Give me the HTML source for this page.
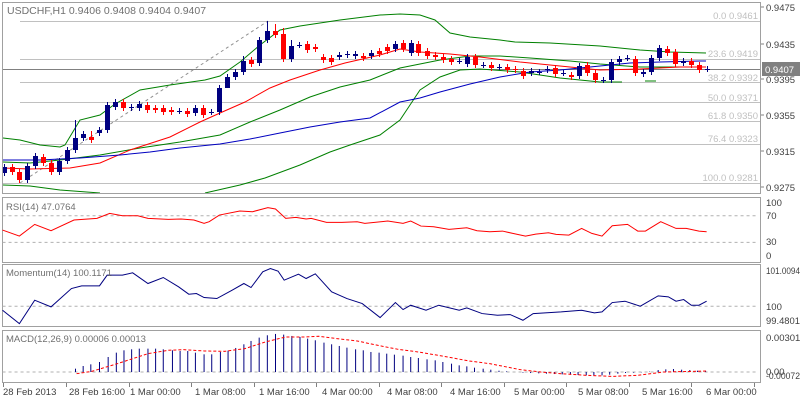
<!DOCTYPE html>
<html><head><meta charset="utf-8"><style>
html,body{margin:0;padding:0;background:#fff;width:800px;height:400px;overflow:hidden}
svg{display:block;font-family:"Liberation Sans",sans-serif}
</style></head><body>
<svg id="s" width="800" height="400" xmlns="http://www.w3.org/2000/svg">
<rect x="0" y="0" width="800" height="400" fill="#fff"/>
<g stroke="#c0c0c0" stroke-width="1">
<line x1="20" y1="21.5" x2="761" y2="21.5"/>
<line x1="20" y1="59.5" x2="761" y2="59.5"/>
<line x1="20" y1="82.5" x2="761" y2="82.5"/>
<line x1="20" y1="102.5" x2="761" y2="102.5"/>
<line x1="20" y1="121.5" x2="761" y2="121.5"/>
<line x1="20" y1="144.5" x2="761" y2="144.5"/>
<line x1="2" y1="183.5" x2="761" y2="183.5"/>
</g>
<line x1="2" y1="69.5" x2="761" y2="69.5" stroke="#808080"/>
<g fill="#c0c0c0" font-size="9.5" text-anchor="end">
<text x="758" y="19">0.0 0.9461</text>
<text x="758" y="57">23.6 0.9419</text>
<text x="758" y="81">38.2 0.9392</text>
<text x="758" y="101">50.0 0.9371</text>
<text x="758" y="119">61.8 0.9350</text>
<text x="758" y="142">76.4 0.9323</text>
<text x="758" y="181">100.0 0.9281</text>
</g>
<line x1="20" y1="183" x2="268" y2="21" stroke="#909090" stroke-dasharray="3,3"/>
<g fill="none" stroke-width="1">
<polyline stroke="#008000" points="3,138 20,140 40,145 60,147 65,145 80,120 100,115 115,104 140,90 170,85 205,80 220,76 240,62 260,45 280,30 300,26 340,20 380,15 400,14 420,15 435,20 450,33 470,37 500,40 515,42 550,43 600,46 640,50 670,52 706,53"/>
<polyline stroke="#008000" points="3,162 30,163 60,160 100,155 140,148 180,142 220,135 250,122 280,110 310,97 340,87 370,80 400,68 440,60 470,56 500,56 530,58 570,61 600,64 640,67 680,67 706,67"/>
<polyline stroke="#008000" points="3,185 30,186 60,190 100,193"/>
<polyline stroke="#008000" points="205,193 240,185 265,178 300,165 330,152 350,145 380,135 400,120 410,105 420,90 440,77 460,70 480,69 520,72 560,78 600,82 622,82"/>
<polyline stroke="#008000" points="645,81 656,81"/>
<polyline stroke="#ff0000" points="3,168 30,169 70,168 100,163 130,150 170,137 200,122 220,113 245,102 270,88 290,80 320,70 345,63 380,55 400,49 420,52 450,54 480,57 520,62 560,66 600,70 640,69 680,67 706,67"/>
<polyline stroke="#0000c0" points="3,160 40,160 80,158 120,155 150,152 180,148 220,144 250,139 280,133 310,127 340,122 370,118 400,102 420,98 440,92 470,84 500,77 530,72 560,70 600,66 630,63 660,62 700,61 706,61"/>
</g>
<g id="candles"></g>
<g fill="none" stroke="#a0a0a0">
<rect x="2.5" y="2.5" width="758" height="191"/>
<rect x="2.5" y="197.5" width="758" height="65"/>
<rect x="2.5" y="264.5" width="758" height="62"/>
<rect x="2.5" y="330.5" width="758" height="52"/>
</g>
<text x="7" y="14" font-size="10.5" fill="#707070">USDCHF,H1  0.9406 0.9408 0.9404 0.9407</text>
<g fill="#404040" font-size="9.5">
<text x="766" y="11">0.9475</text>
<text x="766" y="48">0.9435</text>
<text x="766" y="83">0.9395</text>
<text x="766" y="119">0.9355</text>
<text x="766" y="155">0.9315</text>
<text x="766" y="191">0.9275</text>
</g>
<g stroke="#808080"><line x1="761" y1="7" x2="764" y2="7"/><line x1="761" y1="44" x2="764" y2="44"/><line x1="761" y1="79" x2="764" y2="79"/><line x1="761" y1="115" x2="764" y2="115"/><line x1="761" y1="151" x2="764" y2="151"/><line x1="761" y1="187" x2="764" y2="187"/></g>
<rect x="762" y="62" width="38" height="14" fill="#808080"/>
<text x="765" y="73" font-size="9.5" fill="#fff">0.9407</text>
<g transform="translate(0,195) scale(0.5102,0.334)" fill="none">
<line x1="5" y1="62" x2="1485" y2="62" stroke="#b0b0b0" stroke-dasharray="3,3" vector-effect="non-scaling-stroke"/>
<line x1="5" y1="142" x2="1485" y2="142" stroke="#b0b0b0" stroke-dasharray="3,3" vector-effect="non-scaling-stroke"/>
<line x1="5" y1="333" x2="1485" y2="333" stroke="#b0b0b0" stroke-dasharray="3,3" vector-effect="non-scaling-stroke"/>
<line x1="5" y1="530" x2="1485" y2="530" stroke="#b0b0b0" stroke-dasharray="3,3" vector-effect="non-scaling-stroke"/>
<polyline vector-effect="non-scaling-stroke" stroke="#ff0000" points="5,105 38,123 68,88 100,107 145,75 190,70 215,55 240,62 270,62 290,70 330,73 355,72 380,75 400,85 410,80 430,60 470,48 495,50 525,38 540,42 560,70 580,67 600,72 610,70 640,82 670,82 700,80 715,85 760,78 790,85 805,78 825,93 850,95 880,103 915,98 935,107 960,110 985,108 1005,115 1030,123 1050,117 1075,113 1090,118 1115,120 1140,100 1160,115 1180,123 1200,92 1230,88 1250,108 1265,108 1295,80 1325,100 1345,100 1370,108 1385,110"/>
<polyline vector-effect="non-scaling-stroke" stroke="#000080" points="5,345 38,385 68,315 100,335 140,280 160,272 195,272 210,240 240,240 260,233 290,265 320,247 350,275 370,297 385,295 400,307 425,310 455,285 478,265 492,277 515,230 530,220 545,228 557,255 585,237 600,250 618,236 650,290 680,310 710,325 745,367 775,322 790,343 805,330 835,345 860,330 900,345 915,338 945,355 975,360 1000,358 1025,375 1045,355 1100,350 1140,345 1165,353 1180,350 1200,322 1225,318 1255,333 1290,302 1310,305 1325,318 1340,313 1355,330 1370,330 1385,318"/>
<g id="hist" stroke="#000080"></g>
<polyline vector-effect="non-scaling-stroke" stroke="#ff0000" stroke-dasharray="3,2" points="150,535 180,528 230,505 290,475 330,465 360,463 400,467 440,468 480,460 520,440 560,425 600,425 625,423 660,430 700,437 740,450 780,462 820,470 870,483 920,497 960,505 1000,517 1020,523 1060,530 1100,535 1150,540 1200,543 1250,540 1300,530 1385,527"/>
</g>
<g font-size="9.5" fill="#707070">
<text x="6" y="210">RSI(14) 47.0764</text>
<text x="6" y="276">Momentum(14) 100.1171</text>
<text x="6" y="342">MACD(12,26,9) 0.00006 0.00013</text>
</g>
<g font-size="9.5" fill="#404040">
<text x="766" y="206">100</text><text x="766" y="219">70</text><text x="766" y="245">30</text><text x="766" y="259">0</text>
<text x="766" y="274" textLength="34" lengthAdjust="spacingAndGlyphs">101.0094</text><text x="766" y="310">100</text><text x="766" y="324" textLength="34" lengthAdjust="spacingAndGlyphs">99.4801</text>
<text x="766" y="341">0.00301</text><text x="766" y="375">0.00</text><text x="766" y="379" textLength="34" lengthAdjust="spacingAndGlyphs">-0.00072</text>
</g>
<g font-size="9.5" fill="#404040">
<text x="3" y="395">28 Feb 2013</text><text x="69" y="395">28 Feb 16:00</text><text x="130" y="395">1 Mar 00:00</text><text x="195" y="395">1 Mar 08:00</text><text x="259" y="395">1 Mar 16:00</text><text x="322" y="395">4 Mar 00:00</text><text x="387" y="395">4 Mar 08:00</text><text x="450" y="395">4 Mar 16:00</text><text x="514" y="395">5 Mar 00:00</text><text x="578" y="395">5 Mar 08:00</text><text x="642" y="395">5 Mar 16:00</text><text x="706" y="395">6 Mar 00:00</text>
</g>
<g stroke="#808080" id="ticks"></g>
</svg>
<script>
var NS="http://www.w3.org/2000/svg";
function el(p,t,a){var e=document.createElementNS(NS,t);for(var k in a)e.setAttribute(k,a[k]);p.appendChild(e);return e;}
var c=[[4,173,167],[12,167,172],[19,172,180],[27,180,166],[35,166,156],[43,157,163],[51,163,172],[59,172,161],[67,161,150],[75,150,138],[83,138,134],[91,137,140],[99,133,130],[107,130,105],[115,107,102],[123,102,108],[131,108,107],[139,108,104],[147,105,110],[155,108,110],[163,108,112],[171,110,112],[179,111,111],[187,111,114],[195,113,108],[203,108,115],[211,112,112],[219,112,88],[227,88,77],[235,77,72],[243,72,61],[251,60,64],[259,63,40],[267,40,31],[275,31,35],[283,34,59],[291,59,46],[299,45,45],[307,44,50],[315,47,49],[323,57,60],[331,58,62],[339,57,55],[347,55,54],[355,56,54],[363,56,58],[371,56,53],[379,51,54],[387,47,51],[395,49,44],[403,43,49],[411,53,43],[418,44,53],[427,51,56],[435,55,57],[443,57,60],[451,59,62],[459,61,61],[467,64,57],[475,57,65],[483,65,65],[491,65,68],[499,67,67],[507,67,70],[515,69,70],[523,71,76],[531,73,71],[539,72,72],[547,70,69],[555,68,74],[563,73,73],[571,75,77],[579,76,66],[587,65,73],[595,73,80],[603,80,80],[611,80,62],[619,62,59],[627,58,58],[635,59,73],[643,74,72],[651,72,58],[659,58,48],[667,49,53],[675,52,64],[683,63,61],[691,61,65],[699,65,70],[707,69,69]];
var g=document.getElementById("candles");
var big={75:120,267:21,243:56,91:131,123:111,227:78,275:24,283:28,291:40,219:115};
c.forEach(function(b){var x=b[0],o=b[1],cl=b[2],bull=cl<=o,col=bull?"#000080":"#ff0000";
var top=Math.min(o,cl),bot=Math.max(o,cl);var hi=top-3,lo=bot+3;if(big[x]!==undefined){if(big[x]<top)hi=big[x];else lo=big[x];}
el(g,"line",{x1:x+.5,x2:x+.5,y1:hi,y2:lo,stroke:col});
var h=bot-top;if(h<1){el(g,"line",{x1:x-2,x2:x+3,y1:top+.5,y2:top+.5,stroke:col});}
else el(g,"rect",{x:x-2,y:top,width:5,height:h,fill:col});});
var hs=[[148,520],[163,512],[178,507],[195,500],[212,485],[228,472],[243,465],[258,462],[273,460],[290,460],[305,460],[320,462],[338,465],[353,467],[368,467],[383,472],[400,477],[415,477],[432,470],[447,466],[462,458],[478,447],[492,437],[508,427],[524,420],[540,416],[556,418],[572,422],[588,425],[603,430],[618,435],[635,442],[650,447],[665,452],[680,457],[697,462],[712,465],[727,470],[743,472],[758,475],[773,478],[790,481],[805,485],[820,488],[837,492],[853,495],[868,500],[885,505],[900,510],[915,513],[930,517],[947,520],[962,523],[978,526],[993,528],[1010,530],[1025,532],[1040,533],[1056,534],[1071,535],[1087,536],[1102,537],[1118,538],[1133,539],[1149,540],[1164,540],[1180,540],[1195,538],[1211,535],[1226,533],[1242,532],[1257,531],[1273,529],[1290,524],[1305,522],[1320,521],[1336,523],[1352,524],[1367,526],[1383,528]];
var hg=document.getElementById("hist");
hs.forEach(function(h){el(hg,"line",{x1:h[0],x2:h[0],y1:530,y2:h[1],"vector-effect":"non-scaling-stroke"});});
var tg=document.getElementById("ticks");
[3,66,129,191,254,316,379,441,504,566,629,691,754].forEach(function(x){el(tg,"line",{x1:x+.5,x2:x+.5,y1:383,y2:387});});
</script>
</body></html>
